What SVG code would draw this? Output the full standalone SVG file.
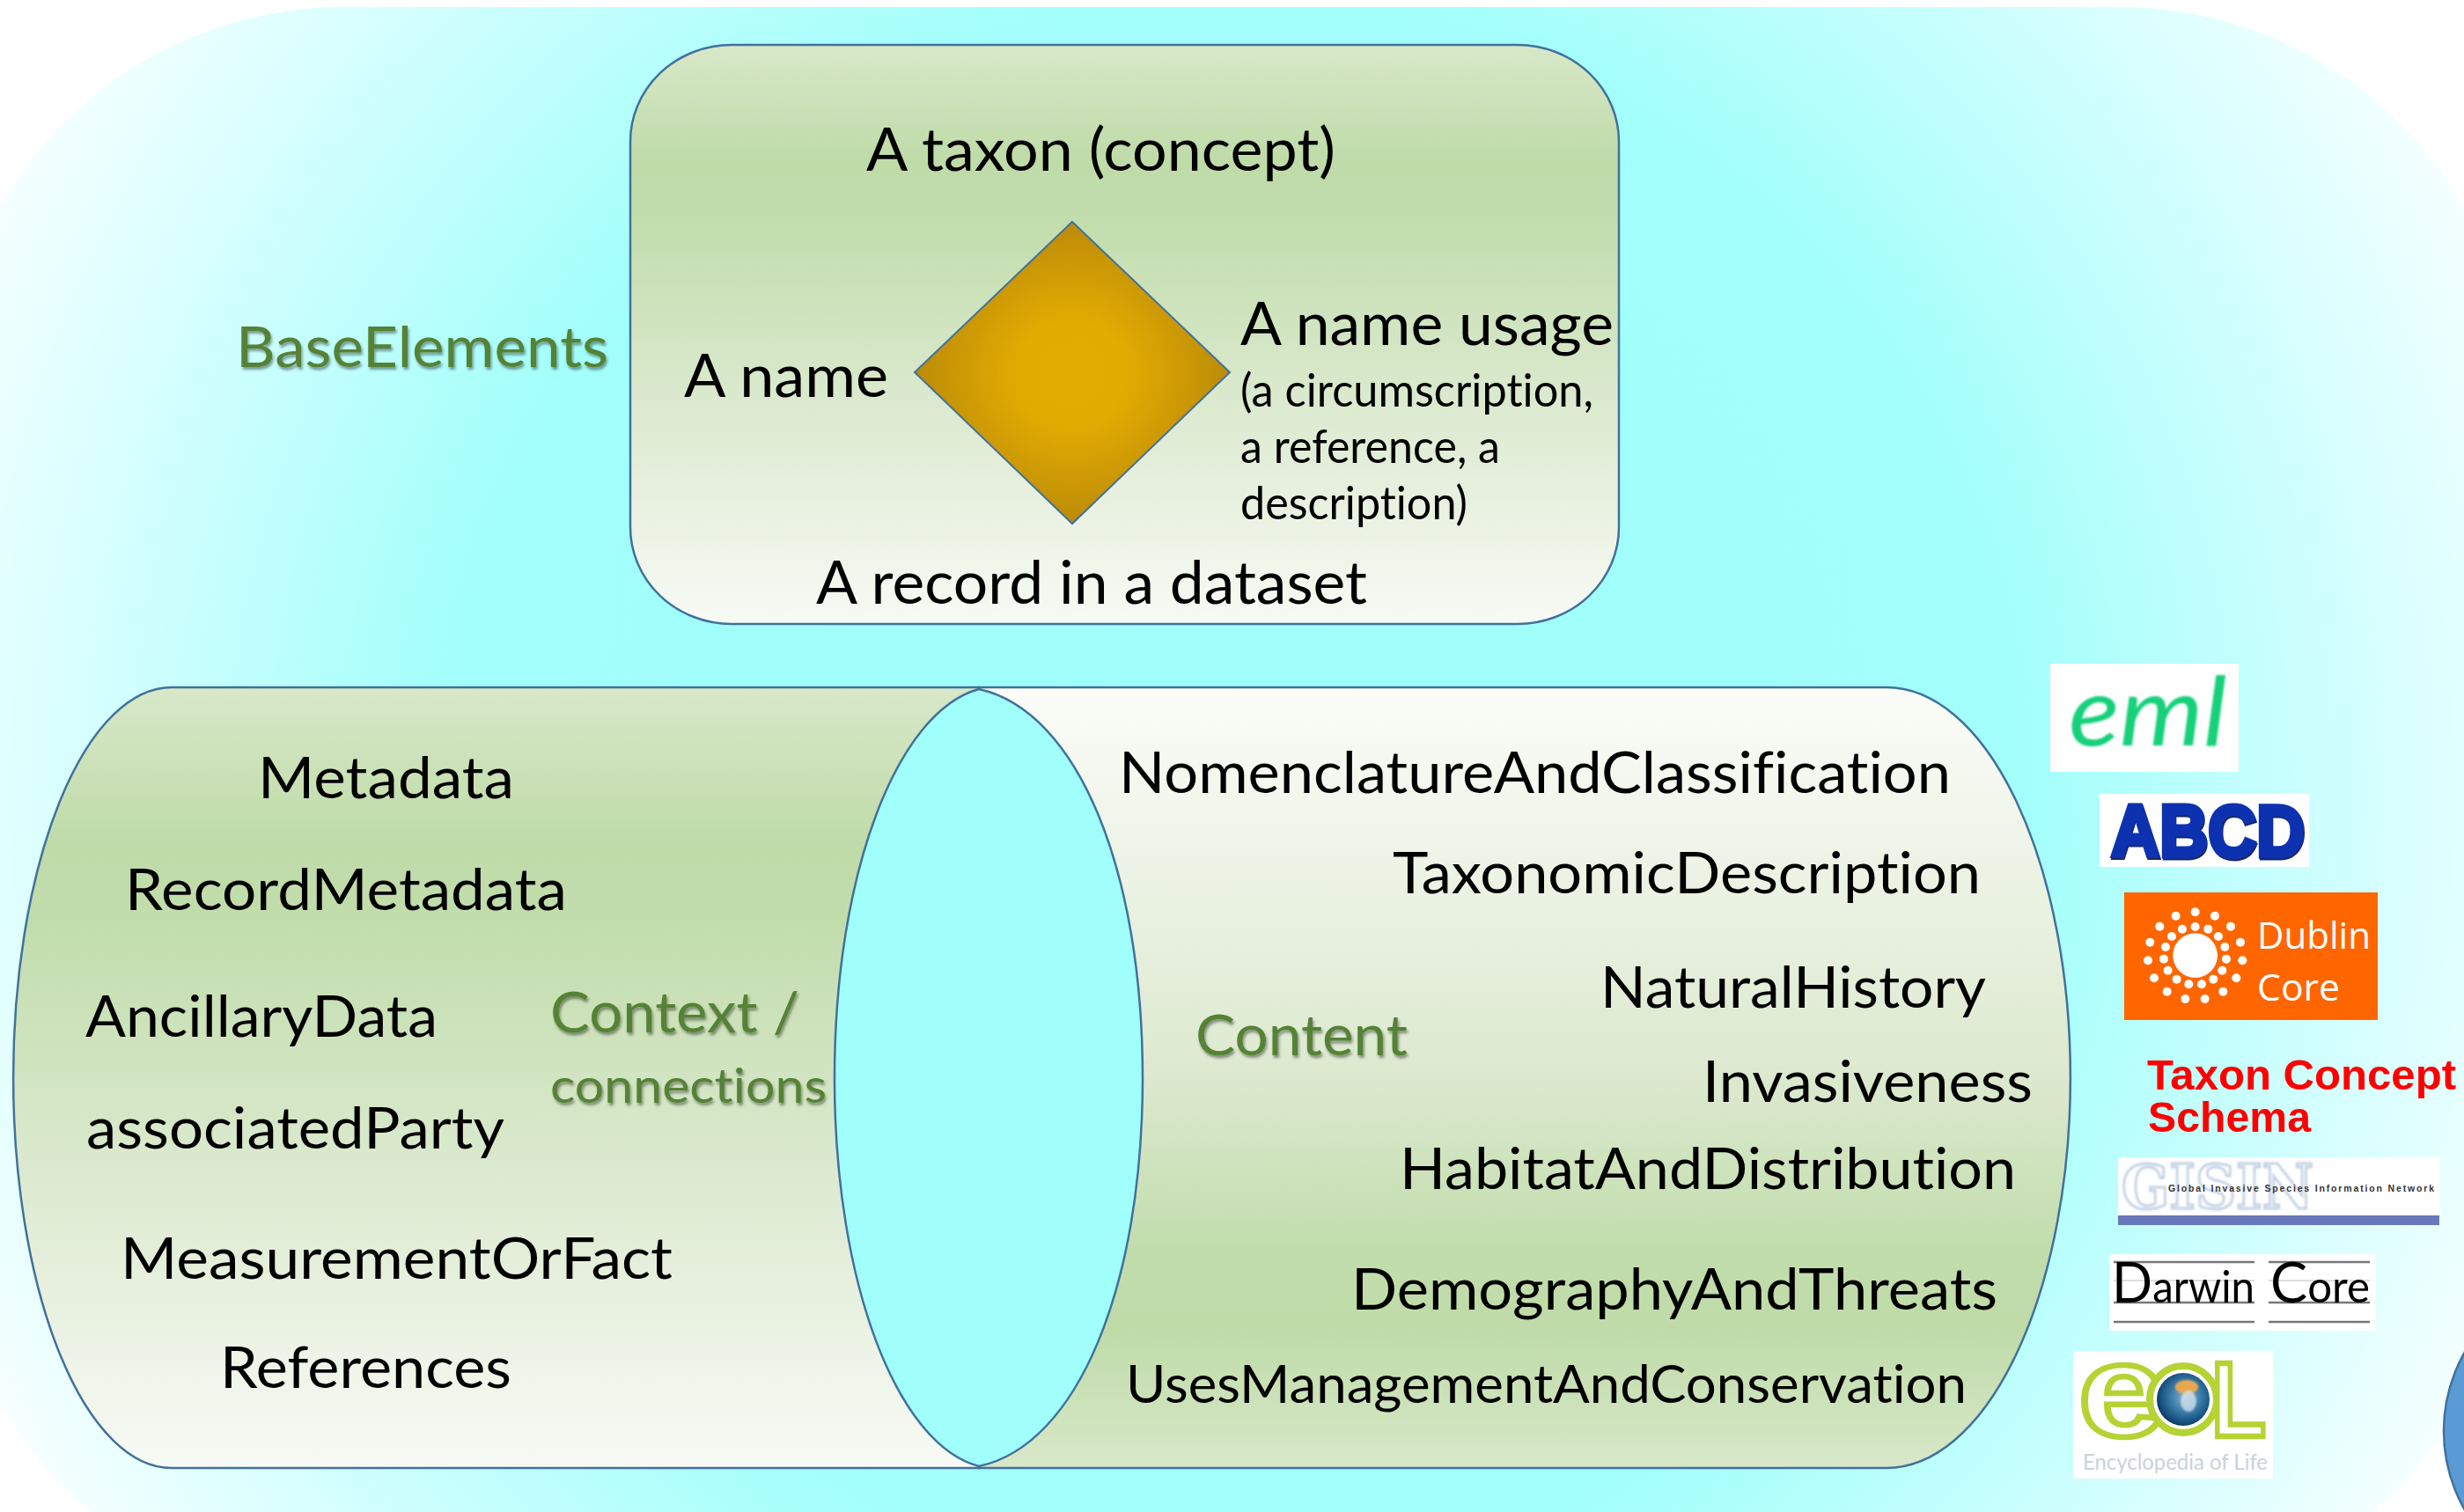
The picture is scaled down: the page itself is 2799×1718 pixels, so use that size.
<svg xmlns="http://www.w3.org/2000/svg" width="2799" height="1718" viewBox="0 0 2799 1718">
<style>
text{font-family:"Lato","Liberation Sans",sans-serif;font-variant-ligatures:none}
.t{font-size:66px;fill:#000}
.b{font-size:68px;fill:#000}
.s{font-size:53px;fill:#000}
.g{font-size:63px;fill:#548235;filter:url(#shadow)}
.edge{stroke:#41719C;stroke-width:2.5}
.logo{fill:#fff}
.lime{fill:#fff;stroke:#B5D334;stroke-width:6.5}
.rule{stroke:#777;stroke-width:2.5}
.thin{stroke:#bbb;stroke-width:1.2}
</style>
<defs>
<radialGradient id="bg" gradientUnits="userSpaceOnUse" cx="1400" cy="900" r="1620">
<stop offset="0" stop-color="#9FFFFB"/><stop offset="0.55" stop-color="#A2FFFB"/><stop offset="0.86" stop-color="#E0FFFF"/><stop offset="1" stop-color="#FFFFFF"/>
</radialGradient>
<linearGradient id="boxFill" x1="0" y1="0" x2="0" y2="1">
<stop offset="0" stop-color="#D8E8C9"/><stop offset="0.2" stop-color="#BFDBA8"/><stop offset="0.3" stop-color="#C2DDAC"/><stop offset="0.6" stop-color="#DAE9CD"/><stop offset="1" stop-color="#F8FAF5"/>
</linearGradient>
<linearGradient id="rightFill" x1="0" y1="0" x2="0" y2="1">
<stop offset="0" stop-color="#FBFCF8"/><stop offset="0.5" stop-color="#DCE9CF"/><stop offset="0.72" stop-color="#C2DDAC"/><stop offset="0.82" stop-color="#BFDBA8"/><stop offset="1" stop-color="#D8E8C9"/>
</linearGradient>
<radialGradient id="gold" cx="0.5" cy="0.5" r="0.5">
<stop offset="0" stop-color="#E3AD00"/><stop offset="0.35" stop-color="#E2AB02"/><stop offset="1" stop-color="#BB8B08"/>
</radialGradient>
<radialGradient id="globe" cx="0.55" cy="0.45" r="0.6">
<stop offset="0" stop-color="#8FB4CC"/><stop offset="0.45" stop-color="#3F7FAD"/><stop offset="0.8" stop-color="#17527F"/><stop offset="1" stop-color="#0B2F50"/>
</radialGradient>
<filter id="shadow" x="-5%" y="-10%" width="110%" height="125%"><feDropShadow dx="1.5" dy="3" stdDeviation="1.6" flood-color="#000" flood-opacity="0.4"/></filter>
<filter id="soft"><feGaussianBlur stdDeviation="1"/></filter>
<filter id="softer"><feGaussianBlur stdDeviation="2.5"/></filter>
<filter id="abcdShadow" x="-5%" y="-10%" width="110%" height="125%"><feDropShadow dx="1" dy="2" stdDeviation="0.5" flood-color="#001050" flood-opacity="0.9"/></filter>
</defs>

<g id="background">
<rect x="0" y="0" width="2799" height="1718" fill="#fff"/>
<rect x="-60" y="8" width="2918" height="1812" rx="450" ry="450" fill="url(#bg)"/>
<circle cx="2956" cy="1626" r="180" fill="#5B9BD5" stroke="#41719C" stroke-width="2.5"/>
</g>

<g id="base-elements-box">
<rect class="edge" x="716" y="51" width="1123" height="658" rx="115" ry="110" fill="url(#boxFill)"/>
<text class="b" x="984" y="194" textLength="533" lengthAdjust="spacingAndGlyphs">A taxon (concept)</text>
<text class="b" x="777" y="451" textLength="232" lengthAdjust="spacingAndGlyphs">A name</text>
<text class="b" x="1409" y="392" textLength="424" lengthAdjust="spacingAndGlyphs">A name usage</text>
<text class="s" x="1409" y="462" textLength="401" lengthAdjust="spacingAndGlyphs">(a circumscription,</text>
<text class="s" x="1409" y="526" textLength="295" lengthAdjust="spacingAndGlyphs">a reference, a</text>
<text class="s" x="1409" y="590" textLength="258" lengthAdjust="spacingAndGlyphs">description)</text>
<text class="b" x="927" y="686" textLength="626" lengthAdjust="spacingAndGlyphs">A record in a dataset</text>
</g>
<g id="diamond"><polygon points="1218,252 1397,423 1218,595 1039,423" fill="url(#gold)" stroke="#41719C" stroke-width="2"/></g>
<g id="label-base"><text class="g" x="268" y="417" textLength="423" lengthAdjust="spacingAndGlyphs">BaseElements</text></g>

<g id="content-cylinder">
<path class="edge" d="M1112,781 H2143 A209,443.5 0 0 1 2143,1668 H1112 Z" fill="url(#rightFill)"/>
</g>
<g id="context-cylinder">
<path class="edge" d="M1112,781 H195 A180,443.5 0 0 0 195,1668 H1112 Z" fill="url(#boxFill)"/>
</g>
<g id="cylinder-opening">
<path class="edge" d="M1112,783 C1225,808 1298,990 1298,1225 C1298,1460 1225,1642 1112,1666 C1020,1642 948,1460 948,1225 C948,990 1020,808 1112,783 Z" fill="#A0FFFB"/>
</g>

<g id="context-items">
<text class="t" x="293" y="907" textLength="291" lengthAdjust="spacingAndGlyphs">Metadata</text>
<text class="t" x="142" y="1034" textLength="502" lengthAdjust="spacingAndGlyphs">RecordMetadata</text>
<text class="t" x="97" y="1178" textLength="400" lengthAdjust="spacingAndGlyphs">AncillaryData</text>
<text class="t" x="98" y="1305" textLength="475" lengthAdjust="spacingAndGlyphs">associatedParty</text>
<text class="t" x="137" y="1453" textLength="627" lengthAdjust="spacingAndGlyphs">MeasurementOrFact</text>
<text class="t" x="250" y="1577" textLength="331" lengthAdjust="spacingAndGlyphs">References</text>
<text class="g" x="625" y="1173" textLength="283" lengthAdjust="spacingAndGlyphs">Context /</text>
<text class="g" style="font-size:55px" x="625" y="1253" textLength="314" lengthAdjust="spacingAndGlyphs">connections</text>
</g>
<g id="content-items">
<text class="t" x="1271" y="901" textLength="945" lengthAdjust="spacingAndGlyphs">NomenclatureAndClassification</text>
<text class="t" x="1582" y="1015" textLength="668" lengthAdjust="spacingAndGlyphs">TaxonomicDescription</text>
<text class="t" x="1818" y="1145" textLength="438" lengthAdjust="spacingAndGlyphs">NaturalHistory</text>
<text class="t" x="1934" y="1252" textLength="375" lengthAdjust="spacingAndGlyphs">Invasiveness</text>
<text class="t" x="1590" y="1351" textLength="700" lengthAdjust="spacingAndGlyphs">HabitatAndDistribution</text>
<text class="t" x="1535" y="1488" textLength="734" lengthAdjust="spacingAndGlyphs">DemographyAndThreats</text>
<text class="t" style="font-size:60px" x="1279" y="1594" textLength="955" lengthAdjust="spacingAndGlyphs">UsesManagementAndConservation</text>
<text class="g" x="1358" y="1199" textLength="241" lengthAdjust="spacingAndGlyphs">Content</text>
</g>

<g id="logo-eml">
<rect class="logo" x="2329" y="754" width="214" height="123"/>
<text x="2350" y="847" textLength="180" lengthAdjust="spacingAndGlyphs" style="font-family:'Lato',sans-serif;font-style:italic;font-size:108px;fill:#12D07A;filter:url(#soft)">eml</text>
</g>
<g id="logo-abcd">
<rect class="logo" x="2385" y="902" width="238" height="83"/>
<text x="2398" y="973" textLength="220" lengthAdjust="spacingAndGlyphs" style="font-family:'Liberation Sans',sans-serif;font-weight:700;font-size:84px;fill:#0A30B0;stroke:#0A30B0;stroke-width:5;filter:url(#abcdShadow)">ABCD</text>
</g>
<g id="logo-dublin-core">
<rect x="2413" y="1014" width="288" height="145" fill="#FF6600"/>
<g transform="translate(2300,720) scale(0.3333)" fill="#fff">
<circle cx="581" cy="1097" r="76"/>
<circle cx="581" cy="949" r="15"/><circle cx="515" cy="962" r="15"/><circle cx="648" cy="962" r="15"/><circle cx="460" cy="998" r="15"/><circle cx="702" cy="998" r="15"/><circle cx="427" cy="1052" r="15"/><circle cx="735" cy="1052" r="15"/><circle cx="420" cy="1114" r="15"/><circle cx="742" cy="1114" r="15"/><circle cx="441" cy="1174" r="15"/><circle cx="721" cy="1174" r="15"/><circle cx="485" cy="1220" r="15"/><circle cx="676" cy="1220" r="15"/><circle cx="547" cy="1245" r="15"/><circle cx="614" cy="1245" r="15"/>
<circle cx="581" cy="999" r="15"/><circle cx="537" cy="1007" r="15"/><circle cx="625" cy="1007" r="15"/><circle cx="501" cy="1032" r="15"/><circle cx="660" cy="1032" r="15"/><circle cx="480" cy="1068" r="15"/><circle cx="682" cy="1068" r="15"/><circle cx="474" cy="1109" r="15"/><circle cx="687" cy="1109" r="15"/><circle cx="488" cy="1148" r="15"/><circle cx="673" cy="1148" r="15"/><circle cx="518" cy="1178" r="15"/><circle cx="643" cy="1178" r="15"/><circle cx="559" cy="1195" r="15"/><circle cx="603" cy="1195" r="15"/>
</g>
<text x="2564" y="1078" textLength="129" lengthAdjust="spacingAndGlyphs" style="font-family:'Open Sans',sans-serif;font-size:42px;fill:#fff">Dublin</text>
<text x="2564" y="1137" textLength="94" lengthAdjust="spacingAndGlyphs" style="font-family:'Open Sans',sans-serif;font-size:42px;fill:#fff">Core</text>
</g>
<g id="logo-taxon-concept">
<text x="2439" y="1238" textLength="351" lengthAdjust="spacingAndGlyphs" style="font-family:'Liberation Sans',sans-serif;font-weight:700;font-size:48px;fill:#FF0000">Taxon Concept</text>
<text x="2440" y="1286" textLength="185" lengthAdjust="spacingAndGlyphs" style="font-family:'Liberation Sans',sans-serif;font-weight:700;font-size:48px;fill:#FF0000">Schema</text>
</g>
<g id="logo-gisin">
<rect class="logo" x="2406" y="1315" width="366" height="77"/>
<rect x="2406" y="1381" width="365" height="11" fill="#6878BA"/>
<text x="2410" y="1373" textLength="218" lengthAdjust="spacingAndGlyphs" style="font-family:'DejaVu Serif',serif;font-weight:700;font-size:70px;fill:#fff;stroke:#C3D1E6;stroke-width:3;filter:url(#soft)">GISIN</text>
<text x="2463" y="1354" textLength="302" lengthAdjust="spacing" style="font-family:'Liberation Sans',sans-serif;font-weight:700;font-size:10.5px;fill:#333">Global Invasive Species Information Network</text>
</g>
<g id="logo-darwin-core">
<rect class="logo" x="2396" y="1425" width="303" height="87"/>
<line class="rule" x1="2401" y1="1434" x2="2561" y2="1434"/><line class="rule" x1="2577" y1="1434" x2="2692" y2="1434"/>
<line class="thin" x1="2401" y1="1455" x2="2561" y2="1455"/><line class="thin" x1="2577" y1="1455" x2="2692" y2="1455"/>
<line class="rule" x1="2401" y1="1480" x2="2561" y2="1480"/><line class="rule" x1="2577" y1="1480" x2="2692" y2="1480"/>
<line class="rule" x1="2401" y1="1502" x2="2561" y2="1502"/><line class="rule" x1="2577" y1="1502" x2="2692" y2="1502"/>
<text x="2399" y="1480" textLength="162" lengthAdjust="spacingAndGlyphs" style="font-size:64px;fill:#000">D<tspan style="font-size:50px">arwin</tspan></text>
<text x="2579" y="1480" textLength="113" lengthAdjust="spacingAndGlyphs" style="font-size:64px;fill:#000">C<tspan style="font-size:50px">ore</tspan></text>
</g>
<g id="logo-eol">
<rect class="logo" x="2355" y="1535" width="227" height="145"/>
<text class="lime" x="2361" y="1632" textLength="100" lengthAdjust="spacingAndGlyphs" style="font-family:'Liberation Sans',sans-serif;font-weight:700;font-size:150px">e</text>
<circle cx="2480" cy="1590" r="38" fill="#fff" stroke="#B5D334" stroke-width="8"/>
<circle cx="2480" cy="1590" r="30" fill="url(#globe)"/>
<ellipse cx="2484" cy="1576" rx="13" ry="8" fill="#E8A850" filter="url(#soft)"/>
<ellipse cx="2486" cy="1592" rx="9" ry="12" fill="#D8E6EE" opacity="0.75" filter="url(#soft)"/>
<text class="lime" x="2512" y="1632" textLength="62" lengthAdjust="spacingAndGlyphs" style="font-family:'Liberation Sans',sans-serif;font-weight:700;font-size:120px">L</text>
<text x="2366" y="1670" textLength="210" lengthAdjust="spacingAndGlyphs" style="font-size:25px;fill:#C9D2DA">Encyclopedia of Life</text>
</g>
</svg>
